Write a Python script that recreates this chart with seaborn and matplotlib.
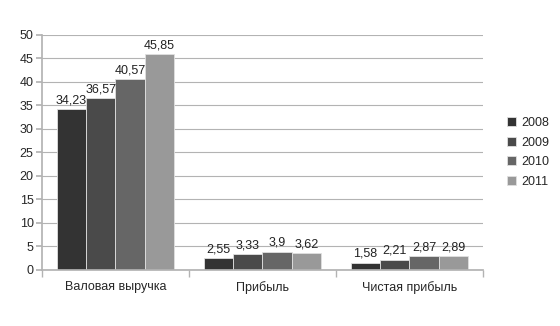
import matplotlib
matplotlib.use("Agg")
import matplotlib.pyplot as plt
import seaborn as sns
import pandas as pd
from matplotlib.ticker import FixedLocator

categories = ["Валовая выручка", "Прибыль", "Чистая прибыль"]
years = ["2008", "2009", "2010", "2011"]
v2008 = [34.23, 2.55, 1.58]
v2009 = [36.57, 3.33, 2.21]
v2010 = [40.57, 3.9, 2.87]
v2011 = [45.85, 3.62, 2.89]
labels = {"2008": ["34,23", "2,55", "1,58"],
          "2009": ["36,57", "3,33", "2,21"],
          "2010": ["40,57", "3,9", "2,87"],
          "2011": ["45,85", "3,62", "2,89"]}

rows = []
for y, vals in zip(years, [v2008, v2009, v2010, v2011]):
    for c, v in zip(categories, vals):
        rows.append({"cat": c, "year": y, "value": v})
df = pd.DataFrame(rows)

sns.set_theme(style="white")
plt.rcParams['font.family'] = ['Liberation Sans', 'DejaVu Sans']

colors = ["#333333", "#4a4a4a", "#666666", "#999999"]
fig = plt.figure(figsize=(5.6, 3.26), dpi=100)
ax = fig.add_axes([0.075, 0.172, 0.7875, 0.721])
sns.barplot(data=df, x="cat", y="value", hue="year", order=categories,
            hue_order=years, palette=colors, width=0.8, ax=ax,
            edgecolor="#e0e0e0", linewidth=0.6, saturation=1, legend=True)

for cont, y in zip(ax.containers, years):
    ax.bar_label(cont, labels=labels[y], padding=2, fontsize=9, color="#222222")

ax.set_ylim(0, 50)
ax.set_xlim(-0.5, 2.5)
ax.set_yticks(range(0, 51, 5))
ax.yaxis.grid(True, color="#b3b3b3", linewidth=0.8)
ax.set_axisbelow(True)
for s in ["top", "right"]:
    ax.spines[s].set_visible(False)
ax.spines["left"].set_color("#b3b3b3")
ax.spines["bottom"].set_color("#b3b3b3")
ax.tick_params(axis="y", which="major", length=4, color="#b3b3b3", labelsize=9, pad=2, left=True)
ax.tick_params(axis="x", which="major", length=0, labelsize=9, pad=8)
ax.xaxis.set_minor_locator(FixedLocator([-0.5, 0.5, 1.5, 2.5]))
ax.tick_params(axis="x", which="minor", length=5, color="#b3b3b3", bottom=True)
ax.set_xlabel("")
ax.set_ylabel("")

handles, lbls = ax.get_legend_handles_labels()
ax.legend(handles, lbls, loc="center left", bbox_to_anchor=(1.03, 0.5), frameon=False,
          fontsize=9, handlelength=0.7, handleheight=0.7, handletextpad=0.4,
          labelspacing=0.6)

fig.savefig("out.png", dpi=100)
